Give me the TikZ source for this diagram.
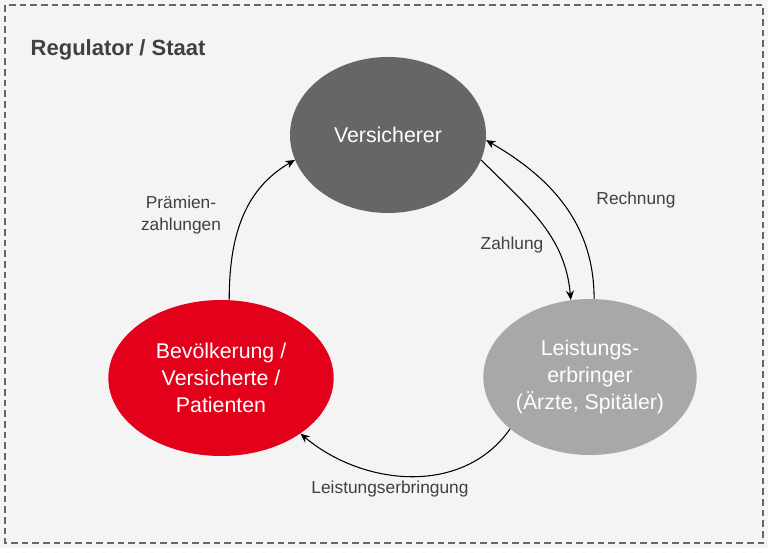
\documentclass[tikz,border=0pt]{standalone}
\usepackage{fontspec}
\setmainfont{Liberation Sans}
\usetikzlibrary{arrows.meta,shapes.geometric}
\definecolor{bg}{HTML}{F4F4F4}
\definecolor{dk}{HTML}{666666}
\definecolor{lg}{HTML}{A8A8A8}
\definecolor{rd}{HTML}{E2001A}
\definecolor{tx}{HTML}{404040}
\begin{document}
\begin{tikzpicture}[x=0.75pt,y=-0.75pt,
  ell/.style={ellipse,draw=none,text=white,font=\fontsize{16}{20}\selectfont,align=center,inner sep=0pt},
  lab/.style={text=tx,font=\fontsize{13}{16}\selectfont,align=center},
  arr/.style={-{Stealth[length=7pt,width=6pt]},line width=0.8pt,black}]
\fill[bg] (0,0) rectangle (768,548);
\foreach \i in {0,...,47}{\foreach \j in {0,...,34}{\fill[gray!45] (8+\i*16,8+\j*16) circle (0.4);}}
\draw[gray!80!black,dashed,line width=1pt,dash pattern=on 5pt off 3pt] (5,5) rectangle (763,543);
\node[anchor=west,text=tx,font=\bfseries\fontsize{16.5}{20}\selectfont] (title) at (26,50) {Regulator / Staat};
\node[ell,fill=dk,minimum width=147pt,minimum height=117pt] (v) at (388,135) {Versicherer};
\node[ell,fill=lg,minimum width=160pt,minimum height=117pt] (l) at (590,377) {Leistungs-\\erbringer\\(Ärzte, Spitäler)};
\node[ell,fill=rd,minimum width=169pt,minimum height=117pt] (b) at (221,378) {Bevölkerung /\\Versicherte /\\Patienten};
\draw[arr] (b.84) to[out=90,in=210] (v.195);
\draw[arr] (v.-15) to[out=-45,in=95] (l.104);
\draw[arr] (l.87) to[out=90,in=-30] (v.-3);
\draw[arr] (l.-147) to[out=-125,in=-40] (b.-35);
\node[lab] (p) at (181,215) {Prämien-\\zahlungen};
\node[lab] (z) at (512,245) {Zahlung};
\node[lab] (r) at (636,200) {Rechnung};
\node[lab] (e) at (390,489) {Leistungserbringung};
\end{tikzpicture}
\end{document}
